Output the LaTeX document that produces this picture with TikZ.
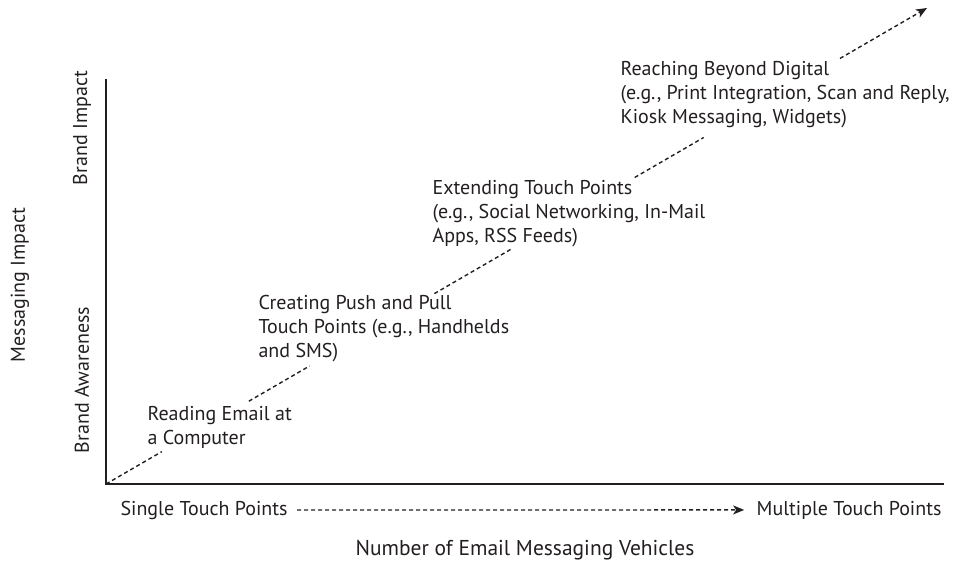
\documentclass[tikz,border=0pt]{standalone}
\usepackage{fontspec}
\setmainfont{PT Sans}
\usetikzlibrary{calc,arrows.meta}
\definecolor{inkgray}{HTML}{231F20}
\tikzset{
  lbl/.style={inner sep=0pt, text=inkgray, font=\fontsize{20}{24}\selectfont},
  stage/.style={lbl, align=left, anchor=base west},
  dashline/.style={dash pattern=on 4pt off 3pt, line width=1.4pt}
}
\begin{document}
\begin{tikzpicture}[>={Stealth[length=11pt,width=9pt,inset=3pt]}, x=1pt, y=-1pt, color=inkgray, line width=1.1pt]
		\useasboundingbox (0,0) rectangle (960,566);
		% axes
		\coordinate (o) at (106,484);
		\coordinate (ytop) at (106,79);
		\coordinate (xend) at (944,484);
		\draw (ytop) -- (o) -- (xend);
		% axis labels
		\node[lbl, rotate=90] (brandimpact) at (82,128) {Brand Impact};
		\node[lbl, rotate=90] (brandaware) at (82,380) {Brand Awareness};
		\node[lbl, rotate=90] (msgimpact) at (20,285) {Messaging Impact};
		\node[lbl, anchor=base west] (single) at (120,515) {Single Touch Points};
		\node[lbl, anchor=base east] (multiple) at (942,515) {Multiple Touch Points};
		\node[lbl, anchor=base, font=\fontsize{21.5}{24}\selectfont] (vehicles) at (525,555) {Number of Email Messaging Vehicles};
		\draw[dashline, ->] ($(single.east)+(9,0)$) coordinate (s1) -- ($(multiple.west)+(-12,0)$) coordinate (s2);
		% stages along the diagonal (base = last line)
		\node[stage] (reading) at (147,444) {Reading Email at\\a Computer};
		\node[stage] (creating) at (258,357) {Creating Push and Pull\\Touch Points (e.g., Handhelds\\and SMS)};
		\node[stage] (extending) at (432,242) {Extending Touch Points\\(e.g., Social Networking, In-Mail\\Apps, RSS Feeds)};
		\node[stage] (reaching) at (620,123) {Reaching Beyond Digital\\(e.g., Print Integration, Scan and Reply,\\Kiosk Messaging, Widgets)};
		% dashed diagonal
		\coordinate (tip) at (927,8);
		\coordinate (d1) at ($(o)!0.068!(tip)$);
		\coordinate (d2) at ($(o)!0.174!(tip)$);
		\coordinate (d3) at ($(o)!0.248!(tip)$);
		\coordinate (d4) at ($(o)!0.40!(tip)$);
		\coordinate (d5) at ($(o)!0.494!(tip)$);
		\coordinate (d6) at ($(o)!0.644!(tip)$);
		\coordinate (d7) at ($(o)!0.728!(tip)$);
		\coordinate (d8) at ($(o)!0.894!(tip)$);
		\draw[dashline] (o) -- (d1);
		\draw[dashline] (d2) -- (d3);
		\draw[dashline] (d4) -- (d5);
		\draw[dashline] (d6) -- (d7);
		\draw[dashline, ->] (d8) -- (tip);
		\end{tikzpicture}
\end{document}
